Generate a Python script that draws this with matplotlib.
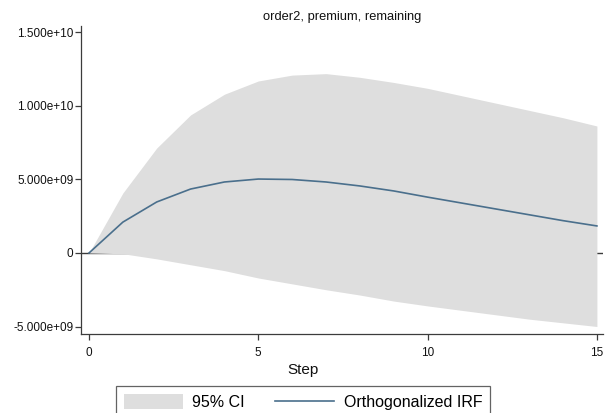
import matplotlib
matplotlib.use("Agg")
import matplotlib.pyplot as plt
from matplotlib.patches import Patch
from matplotlib.lines import Line2D

plt.rcParams['font.family'] = ['Liberation Sans', 'DejaVu Sans']

steps = [0, 1, 2, 3, 4, 5, 6, 7, 8, 9, 10, 11, 12, 13, 14, 15]
irf = [0, 2.1e9, 3.47e9, 4.35e9, 4.83e9, 5.03e9, 5.0e9, 4.83e9, 4.56e9, 4.22e9,
       3.8e9, 3.4e9, 3.0e9, 2.6e9, 2.2e9, 1.84e9]
ci_upper = [0, 4.08e9, 7.14e9, 9.39e9, 10.8e9, 11.7e9, 12.1e9, 12.2e9, 11.95e9, 11.6e9,
            11.2e9, 10.7e9, 10.2e9, 9.7e9, 9.2e9, 8.64e9]
ci_lower = [0, -0.05e9, -0.4e9, -0.8e9, -1.2e9, -1.7e9, -2.1e9, -2.5e9, -2.86e9, -3.27e9,
            -3.6e9, -3.9e9, -4.2e9, -4.5e9, -4.75e9, -5.0e9]
yticks = [-5e9, 0, 5e9, 1e10, 1.5e10]
ytick_labels = ['-5.000e+09', '0', '5.000e+09', '1.000e+10', '1.500e+10']
xticks = [0, 5, 10, 15]

W, H = 609, 413
fig = plt.figure(figsize=(W / 100, H / 100), dpi=100)
ax = fig.add_axes([81 / W, 1 - 334 / H, (603 - 81) / W, (334 - 26) / H])

fill_c = '#dedede'
line_c = '#4a6f8c'
axis_c = '#3c3c3c'

ax.axhline(0, color=axis_c, lw=1.0, zorder=1)
ax.fill_between(steps, ci_lower, ci_upper, color=fill_c, lw=0, zorder=2)
ax.plot(steps, irf, color=line_c, lw=1.2, zorder=3)

ax.set_xlim(-0.236, 15.18)
ax.set_ylim(-5.51e9, 15.44e9)
ax.set_xticks(xticks)
ax.set_xticklabels([str(t) for t in xticks])
ax.set_yticks(yticks)
ax.set_yticklabels(ytick_labels)

for s in ['top', 'right']:
    ax.spines[s].set_visible(False)
for s in ['left', 'bottom']:
    ax.spines[s].set_color(axis_c)
    ax.spines[s].set_linewidth(0.9)
ax.tick_params(axis='both', direction='out', length=4, width=0.9, color=axis_c,
               labelsize=8.5, labelcolor='#111111', pad=1.5)
ax.tick_params(axis='x', pad=5)

ax.set_title('order2, premium, remaining', fontsize=9.3, color='#111111', pad=4)
fig.text(303 / W, 1 - 370 / H, 'Step', ha='center', va='center', fontsize=11, color='#111111')

handles = [Patch(facecolor=fill_c, edgecolor='none'),
           Line2D([0], [0], color=line_c, lw=1.2)]
leg = fig.legend(handles, ['95% CI', 'Orthogonalized IRF'], ncol=2,
                 loc='upper center', bbox_to_anchor=(303 / W, 1 - 386 / H),
                 fontsize=11.5, frameon=True, fancybox=False, handlelength=3.7,
                 handleheight=1.1, handletextpad=0.6, columnspacing=1.9,
                 borderpad=0.5, borderaxespad=0)
leg.get_frame().set_edgecolor(axis_c)
leg.get_frame().set_linewidth(0.9)

fig.savefig('out.png', dpi=100)
